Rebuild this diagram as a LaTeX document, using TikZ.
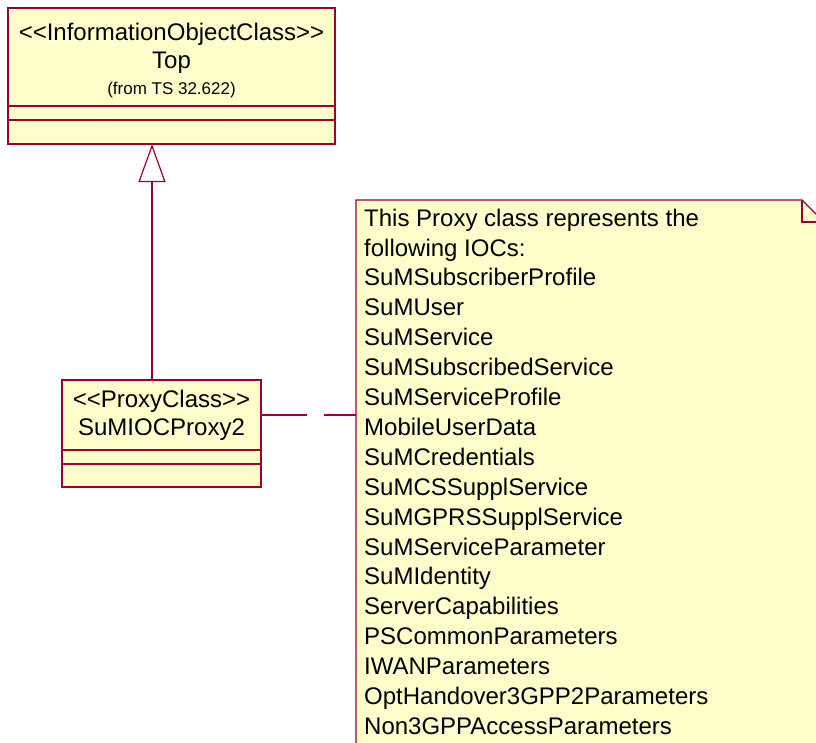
\documentclass[tikz,border=0pt]{standalone}
\usepackage{fontspec}
\setmainfont{Liberation Sans}[Ligatures=TeXOff]
\usetikzlibrary{arrows.meta,positioning,backgrounds}
\definecolor{umlfill}{RGB}{255,255,204}
\definecolor{umlline}{RGB}{153,0,51}

\begin{document}
\begin{tikzpicture}[x=1pt,y=1pt,>={Triangle[open,length=38pt,width=27pt]},
    every node/.style={font=\fontsize{24}{28}\selectfont},
    classbox/.style={draw=umlline,fill=umlfill,line width=1.2pt,inner sep=0pt,outer sep=0pt,align=center},
    notetext/.style={font=\fontsize{24}{29.9}\selectfont,align=left,inner xsep=8pt,inner ysep=8.5pt},
    uml/.style={draw=umlline,line width=1.2pt}]
  \useasboundingbox (0,0) rectangle (816,-742);
  \clip (0,0) rectangle (816,-742);

  % root class
  \node[classbox,minimum width=327pt,minimum height=98pt] (top) at (171.5,-57)
    {\rule{0pt}{25.5pt}<<InformationObjectClass>>\\Top\\[-2pt]{\fontsize{17}{20}\selectfont (from TS 32.622)}};
  \node[classbox,minimum width=327pt,minimum height=14pt,below=0pt of top] (topattr) {};
  \node[classbox,minimum width=327pt,minimum height=24pt,below=0pt of topattr] (topops) {};

  % proxy class
  \node[classbox,minimum width=199pt,minimum height=70pt] (proxy) at (161.5,-415)
    {<<ProxyClass>>\\SuMIOCProxy2};
  \node[classbox,minimum width=199pt,minimum height=14pt,below=0pt of proxy] (proxyattr) {};
  \node[classbox,minimum width=199pt,minimum height=23pt,below=0pt of proxyattr] (proxyops) {};

  % note
  \node[notetext,anchor=north west] (note) at (356,-200)
    {This Proxy class represents the\\following IOCs:\\SuMSubscriberProfile\\SuMUser\\SuMService\\
     SuMSubscribedService\\SuMServiceProfile\\MobileUserData\\SuMCredentials\\SuMCSSupplService\\
     SuMGPRSSupplService\\SuMServiceParameter\\SuMIdentity\\ServerCapabilities\\
     PSCommonParameters\\IWANParameters\\OptHandover3GPP2Parameters\\Non3GPPAccessParameters};
  \begin{scope}[on background layer]
    \filldraw[uml,fill=umlfill] (note.north west) -- (802,-200) coordinate (fold)
      -- (824,-222) -- (824,-760) -- (356,-760) -- cycle;
    \draw[uml] (fold) -- (802,-222) -- (824,-222);
  \end{scope}

  \draw[uml,dash pattern=on 46pt off 17pt] (proxy.east) -- (proxy.east -| note.west);
  \draw[uml,->] ([xshift=-9.5pt]proxy.north) -- ([xshift=-9.5pt]proxy.north |- topops.south);
\end{tikzpicture}
\end{document}
